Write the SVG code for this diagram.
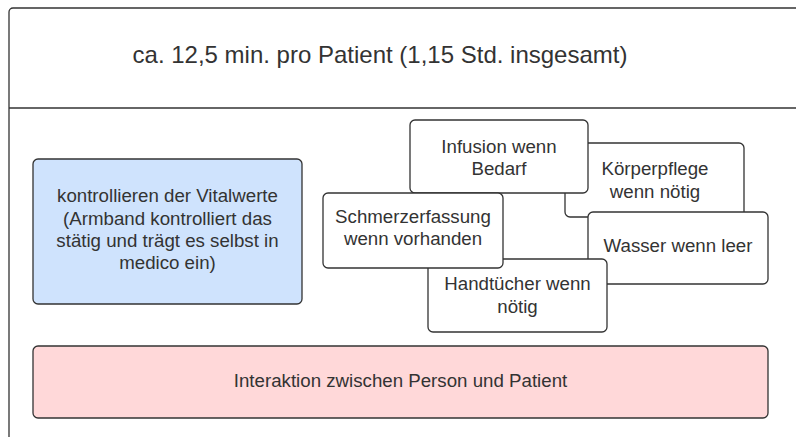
<svg xmlns="http://www.w3.org/2000/svg" width="796" height="437" viewBox="0 0 796 437">
<style>
.box{fill:#ffffff;stroke:#333333;stroke-width:1.3}
.t{font-family:"Liberation Sans",Arial,sans-serif;font-size:18.7px;fill:#333333;text-anchor:middle}
</style>
<rect x="0" y="0" width="796" height="437" fill="#ffffff"/>
<g id="frame">
<rect x="9" y="8" width="820" height="460" rx="4" fill="#ffffff" stroke="#333333" stroke-width="1.3"/>
<line x1="9" y1="108" x2="796" y2="108" stroke="#333333" stroke-width="1.6"/>
<text class="t" x="380" y="63" style="font-size:24px">ca. 12,5 min. pro Patient (1,15 Std. insgesamt)</text>
</g>
<g id="vitalwerte">
<rect x="33" y="159" width="269" height="145" rx="5" fill="#cfe3fd" stroke="#333333" stroke-width="1.3"/>
<text class="t" x="167.5" y="202">kontrollieren der Vitalwerte</text>
<text class="t" x="167.5" y="225">(Armband kontrolliert das</text>
<text class="t" x="167.5" y="247">stätig und trägt es selbst in</text>
<text class="t" x="167.5" y="269">medico ein)</text>
</g>
<g id="koerperpflege">
<rect class="box" x="565" y="143" width="179" height="74" rx="5"/>
<text class="t" x="655" y="175">Körperpflege</text>
<text class="t" x="655" y="198">wenn nötig</text>
</g>
<g id="infusion">
<rect class="box" x="410" y="120" width="178" height="73" rx="5"/>
<text class="t" x="499" y="153">Infusion wenn</text>
<text class="t" x="499" y="175">Bedarf</text>
</g>
<g id="wasser">
<rect class="box" x="588" y="212" width="180" height="72" rx="5"/>
<text class="t" x="678" y="252">Wasser wenn leer</text>
</g>
<g id="handtuecher">
<rect class="box" x="428" y="259" width="179" height="73" rx="5"/>
<text class="t" x="517.5" y="290">Handtücher wenn</text>
<text class="t" x="517.5" y="313">nötig</text>
</g>
<g id="schmerzerfassung">
<rect class="box" x="323" y="193" width="180" height="75" rx="5"/>
<text class="t" x="413" y="223">Schmerzerfassung</text>
<text class="t" x="413" y="245">wenn vorhanden</text>
</g>
<g id="interaktion">
<rect x="33" y="346" width="735" height="72" rx="5" fill="#ffd8d9" stroke="#333333" stroke-width="1.3"/>
<text class="t" x="400.5" y="387">Interaktion zwischen Person und Patient</text>
</g>
<g id="connectors"/>
</svg>
